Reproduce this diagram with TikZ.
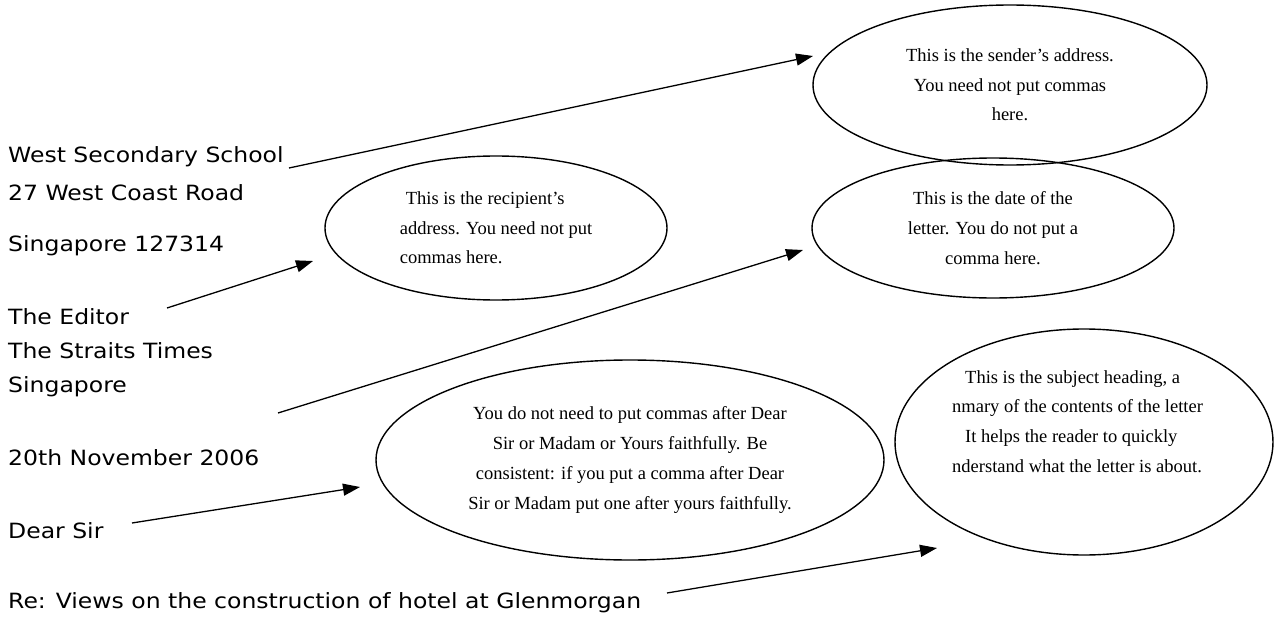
\documentclass[tikz,border=0pt]{standalone}
\usepackage{fontspec}
\setmainfont{Liberation Serif}
\newfontfamily\handfont[FakeStretch=1.12]{DejaVu Sans}
\usetikzlibrary{arrows.meta,shapes.geometric}
\begin{document}
\begin{tikzpicture}[x=1pt,y=-1pt,
  hand/.style={font=\handfont\fontsize{21}{25}\selectfont, anchor=base west, inner sep=0pt},
  bubble/.style={draw, ellipse, line width=1.4pt, inner sep=0pt,
    font=\fontsize{18.5}{29.7}\selectfont, align=center},
  pointer/.style={-{Triangle[length=17pt,width=12pt]}, line width=1.3pt}]
\fill[white] (0,0) rectangle (1278,618);
\useasboundingbox (0,0) rectangle (1278,618);

% left column (the letter)
\node[hand] (school) at (8,162.7) {West Secondary School};
\node[hand] (road)   at (8,200) {27 West Coast Road};
\node[hand] (sg1)    at (8,251.7) {Singapore 127314};
\node[hand] (editor) at (8,324) {The Editor};
\node[hand] (times)  at (8,358) {The Straits Times};
\node[hand] (sg2)    at (8,392.7) {Singapore};
\node[hand] (date)   at (8,465) {20th November 2006};
\node[hand] (dear)   at (8,538) {Dear Sir};
\node[hand] (re)     at (8,608) {Re: Views on the construction of hotel at Glenmorgan};

% bubbles
\node[bubble, minimum width=394pt, minimum height=160pt] (sender) at (1010,85)
  {This is the sender's address.\\You need not put commas\\here.};
\node[bubble, align=left, minimum width=342pt, minimum height=144pt] (recip) at (496,228)
  {\hspace*{6pt}This is the recipient's\\address. You need not put\\commas here.};
\node[bubble, minimum width=362pt, minimum height=140pt] (datebub) at (993,228)
  {This is the date of the\\letter. You do not put a\\comma here.};
\node[bubble, minimum width=508pt, minimum height=200pt] (salut) at (630,460)
  {You do not need to put commas after Dear\\Sir or Madam or Yours faithfully. Be\\consistent: if you put a comma after Dear\\Sir or Madam put one after yours faithfully.};
\node[bubble, minimum width=378pt, minimum height=226pt] (subject) at (1084,442) {};
\node[font=\fontsize{18.5}{29.7}\selectfont, align=left, anchor=west, inner sep=0pt] (subjtext) at (952,421.5)
  {\hspace*{13pt}This is the subject heading, a\\nmary of the contents of the letter\\\hspace*{13pt}It helps the reader to quickly\\nderstand what the letter is about.};

% arrow ends
\coordinate (s1) at (289,168);  \coordinate (t1) at (813,56);
\coordinate (s2) at (167,308);  \coordinate (t2) at (313,261);
\coordinate (s3) at (278,413);  \coordinate (t3) at (803,250);
\coordinate (s4) at (132,523);  \coordinate (t4) at (360,487);
\coordinate (s5) at (667,593);  \coordinate (t5) at (937,548);

\draw[pointer] (s1) -- (t1);
\draw[pointer] (s2) -- (t2);
\draw[pointer] (s3) -- (t3);
\draw[pointer] (s4) -- (t4);
\draw[pointer] (s5) -- (t5);
\end{tikzpicture}
\end{document}
